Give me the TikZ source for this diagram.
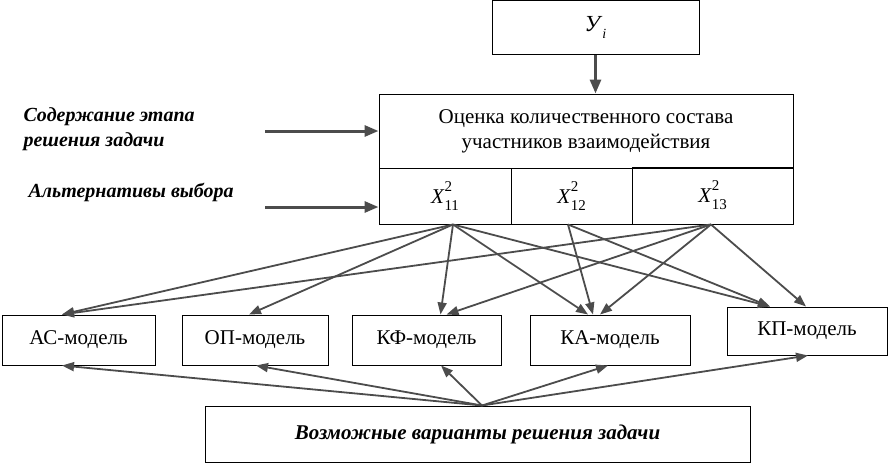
\documentclass[tikz,border=0pt]{standalone}
\usepackage{fontspec}
\setmainfont{Liberation Serif}
\newfontfamily\tnr{Liberation Serif}
\usetikzlibrary{arrows.meta}
\newcommand\xalt[1]{\textit{X}\rlap{\raisebox{.55em}{\fontsize{15}{15}\selectfont 2}}\raisebox{-.35em}{\fontsize{15}{15}\selectfont #1}}
\begin{document}
\begin{tikzpicture}[x=1pt,y=-1pt,
  box/.style={draw,line width=1pt,inner sep=0pt,font=\tnr\fontsize{21}{25}\selectfont},
  link/.style={draw=black!70,line width=1.8pt,-{Triangle[length=12pt,width=9pt]}},
  wide/.style={draw=black!70,line width=3pt,-{Triangle[length=14pt,width=11pt]}},
  lab/.style={font=\tnr\fontsize{20}{25}\selectfont\bfseries\itshape,align=left,anchor=west}]
\useasboundingbox (0,0) rectangle (889,463);
\node[box,minimum width=207pt,minimum height=54pt] (yi) at (595.5,27.5) {\fontsize{23}{25}\selectfont\textit{У}\raisebox{-.3em}{\fontsize{14}{14}\selectfont\textit{i}}};
\node[box,minimum width=414pt,minimum height=74pt,align=center] (eval) at (586,131) {Оценка количественного состава\\участников взаимодействия};
\node[box,minimum width=132pt,minimum height=56pt] (x11) at (445,196) {\xalt{11}};
\node[box,minimum width=121pt,minimum height=56pt] (x12) at (571.5,196) {\xalt{12}};
\node[box,minimum width=161pt,minimum height=57pt] (x13) at (712.5,195.5) {\xalt{13}};
\node[lab] (stage) at (20,129) {Содержание этапа\\решения задачи};
\node[lab] (alt) at (25,192) {Альтернативы выбора};
\node[box,minimum width=153pt,minimum height=50pt] (ac) at (78.5,340) {АС-модель};
\node[box,minimum width=146pt,minimum height=50pt] (op) at (255,340) {ОП-модель};
\node[box,minimum width=149pt,minimum height=50pt] (kf) at (426.5,340) {КФ-модель};
\node[box,minimum width=160pt,minimum height=50pt] (ka) at (610,340) {КА-модель};
\node[box,minimum width=160pt,minimum height=48pt] (kp) at (807,331) {КП-модель};
\node[box,minimum width=545pt,minimum height=56pt,font=\tnr\fontsize{21}{24}\selectfont\bfseries\itshape] (var) at (477.5,434) {Возможные варианты решения задачи};
\coordinate (c1) at (265,131);
\coordinate (c2) at (265,207);
\draw[wide] (yi.south) -- (yi.south |- eval.north);
\draw[wide] (c1) -- (eval.west);
\draw[wide] (c2) -- (c2 -| x11.west);
\foreach \s/\t in {-16.5/ac,-6/op,14/kf,-22/ka,-37/kp}
  \draw[link] ([xshift=8pt]x11.south) -- ([xshift=\s pt]\t.north);
\foreach \s/\t in {-17/ka,-37/kp}
  \draw[link] ([xshift=-3.5pt]x12.south) -- ([xshift=\s pt]\t.north);
\foreach \s/\t in {-16.5/ac,20/kf,-10/ka,-1/kp}
  \draw[link] ([xshift=-1.5pt]x13.south) -- ([xshift=\s pt]\t.north);
\foreach \s/\t in {-16.5/ac,1/op,14.5/kf,-2/ka,1/kp}
  \draw[link] ([xshift=4.5pt]var.north) -- ([xshift=\s pt]\t.south);
\end{tikzpicture}
\end{document}
